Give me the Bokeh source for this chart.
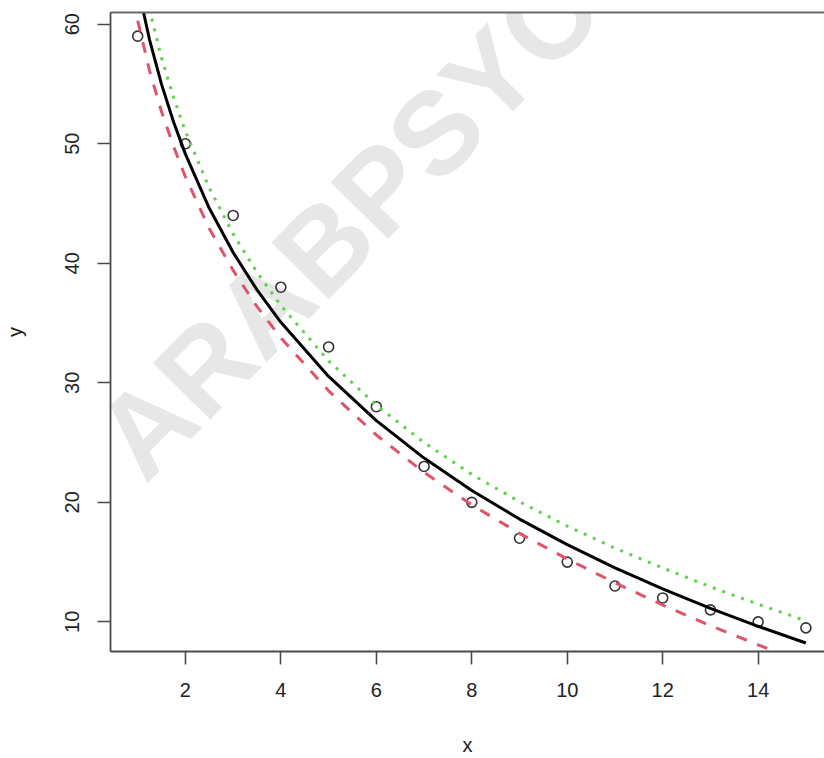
import math
from bokeh.plotting import figure
from bokeh.models import Range1d, FixedTicker, LinearAxis, Label
from bokeh.embed import file_html
from bokeh.resources import INLINE

# observed data points
x_pts = [1, 2, 3, 4, 5, 6, 7, 8, 9, 10, 11, 12, 13, 14, 15]
y_pts = [59, 50, 44, 38, 33, 28, 23, 20, 17, 15, 13, 12, 11, 10, 9.5]

# fitted curves, values
curve_x = [1, 1.25, 1.5, 1.75, 2, 2.5, 3, 3.5, 4, 5, 6, 7, 8, 9, 10, 11, 12, 13, 14, 15]
fit_black = [63.2, 58.67, 54.97, 51.84, 49.13, 44.6, 40.9, 37.77, 35.06, 30.53, 26.83,
             23.70, 20.99, 18.60, 16.46, 14.52, 12.76, 11.13, 9.63, 8.23]
fit_red = [60.3, 56.07, 52.67, 49.79, 47.23, 42.9, 39.4, 36.37, 33.76, 29.33, 25.63,
           22.5, 19.79, 17.4, 15.26, 13.27, 11.41, 9.68, 8.08, 6.53]
fit_green = [66.2, 61.17, 57.17, 53.89, 51.03, 46.3, 42.45, 39.24, 36.46, 31.83, 28.13,
             25.0, 22.34, 20.05, 18.01, 16.17, 14.51, 12.93, 11.48, 10.08]

x_ticks = [2, 4, 6, 8, 10, 12, 14]
y_ticks = [10, 20, 30, 40, 50, 60]

FONT = "Liberation Sans"
AXIS_COLOR = "#4a4a4a"
TEXT_COLOR = "#222222"

p = figure(width=824, height=758,
           x_range=Range1d(0.43, 15.39), y_range=Range1d(7.52, 60.98),
           output_backend="svg", toolbar_location=None,
           min_border_left=109, min_border_right=0,
           min_border_top=12, min_border_bottom=103)
p.outline_line_color = None
p.background_fill_color = "white"
p.border_fill_color = "white"
p.xgrid.grid_line_color = None
p.ygrid.grid_line_color = None

# watermark
wm = Label(x=0.56, y=23.8, text="ARABPSYC", angle=math.radians(45.5),
           text_font=FONT, text_font_style="bold", text_font_size="117px",
           text_color="#e7e7e7", text_baseline="alphabetic", text_align="left",
           level="underlay")
p.add_layout(wm)

for ax, ticks in ((p.xaxis[0], x_ticks), (p.yaxis[0], y_ticks)):
    ax.ticker = FixedTicker(ticks=ticks)
    ax.minor_tick_line_color = None
    ax.major_tick_in = 0
    ax.major_tick_out = 13
    ax.major_tick_line_color = AXIS_COLOR
    ax.major_tick_line_width = 1.6
    ax.axis_line_color = AXIS_COLOR
    ax.axis_line_width = 1.8
    ax.major_label_text_font = FONT
    ax.major_label_text_font_size = "20px"
    ax.major_label_text_color = TEXT_COLOR
    ax.axis_label_text_font = FONT
    ax.axis_label_text_font_size = "20px"
    ax.axis_label_text_font_style = "normal"
    ax.axis_label_text_color = TEXT_COLOR

p.xaxis.axis_label = "x"
p.yaxis.axis_label = "y"
p.xaxis.major_label_standoff = 18
p.xaxis.axis_label_standoff = 34
p.yaxis.major_label_standoff = 18
p.yaxis.axis_label_standoff = 37
p.yaxis.major_label_orientation = "vertical"

top = LinearAxis(ticker=FixedTicker(ticks=[]), major_tick_out=0, major_tick_in=0,
                 minor_tick_out=0, minor_tick_in=0, major_label_text_font_size="0px",
                 major_label_standoff=0, axis_line_color="#6a6a6a", axis_line_width=2)
p.add_layout(top, "above")

p.scatter(x_pts, y_pts, marker="circle", size=10, fill_color=None,
          line_color="#333333", line_width=1.6)
p.line(curve_x, fit_red, line_color="#DF536B", line_width=3, line_dash="11 11")
p.line(curve_x, fit_green, line_color="#61D04F", line_width=3, line_dash="3 7")
p.line(curve_x, fit_black, line_color="black", line_width=3)

open("out.html", "w").write(file_html(p, INLINE))
